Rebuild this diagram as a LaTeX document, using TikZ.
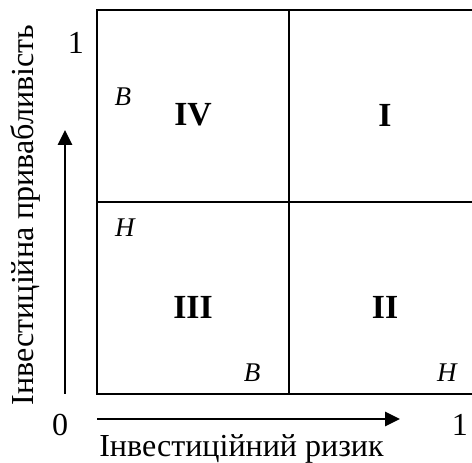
\documentclass[tikz,border=0pt]{standalone}
\usepackage{fontspec}
\setmainfont{Liberation Serif}
\usetikzlibrary{arrows.meta,positioning}

\begin{document}
\begin{tikzpicture}
    % Define styles
    \tikzset{
        frame/.style={draw, line width=1.1pt},
        axis/.style={-{Triangle[length=0.31cm,width=0.29cm]}, line width=1.6pt},
        zone/.style={inner sep=0pt, font=\fontsize{20}{24}\selectfont\bfseries},
        level/.style={inner sep=0pt, font=\fontsize{16}{19}\selectfont\itshape},
        tick/.style={inner sep=0pt, font=\fontsize{19}{23}\selectfont},
        axislabel/.style={inner sep=0pt, anchor=base, font=\fontsize{19}{23}\selectfont}
    }

    % Picture size
    \useasboundingbox (-2.021,-1.4375) rectangle (7.8125,8.208);
    \clip (-2.021,-1.4375) rectangle (7.8125,8.208);

    % Draw the matrix (right edge runs off the page)
    \draw[frame] (0,0) rectangle (8,8);
    \draw[frame] (4,0) -- (4,8);
    \draw[frame] (0,4) -- (8,4);

    % Place nodes
    \node[zone] (IV) at (2,5.81) {IV};
    \node[zone] (I) at (6,5.81) {I};
    \node[zone] (III) at (2,1.81) {III};
    \node[zone] (II) at (6,1.81) {II};

    \node[level] (high1) at (0.54,6.19) {B};
    \node[level] (low1) at (0.58,3.46) {H};
    \node[level] (high2) at (3.23,0.44) {B};
    \node[level] (low2) at (7.29,0.44) {H};

    \node[tick] (zero) at (-0.77,-0.65) {0};
    \node[tick] (oneY) at (-0.44,7.31) {1};
    \node[tick] (oneX) at (7.56,-0.65) {1};

    \coordinate (ybase) at (-0.667,0);
    \coordinate (ytip) at (-0.667,5.5);
    \coordinate (xbase) at (0,-0.521);
    \coordinate (xtip) at (6.3125,-0.521);

    % Draw arrows
    \draw[axis] (ybase) -- (ytip);
    \draw[axis] (xbase) -- (xtip);

    % Axis labels
    \node[axislabel] (risk) at (3.01,-1.3125) {Інвестиційний ризик};
    \node[axislabel, rotate=90] (appeal) at (-1.333,3.73) {Інвестиційна привабливість};
\end{tikzpicture}
\end{document}
